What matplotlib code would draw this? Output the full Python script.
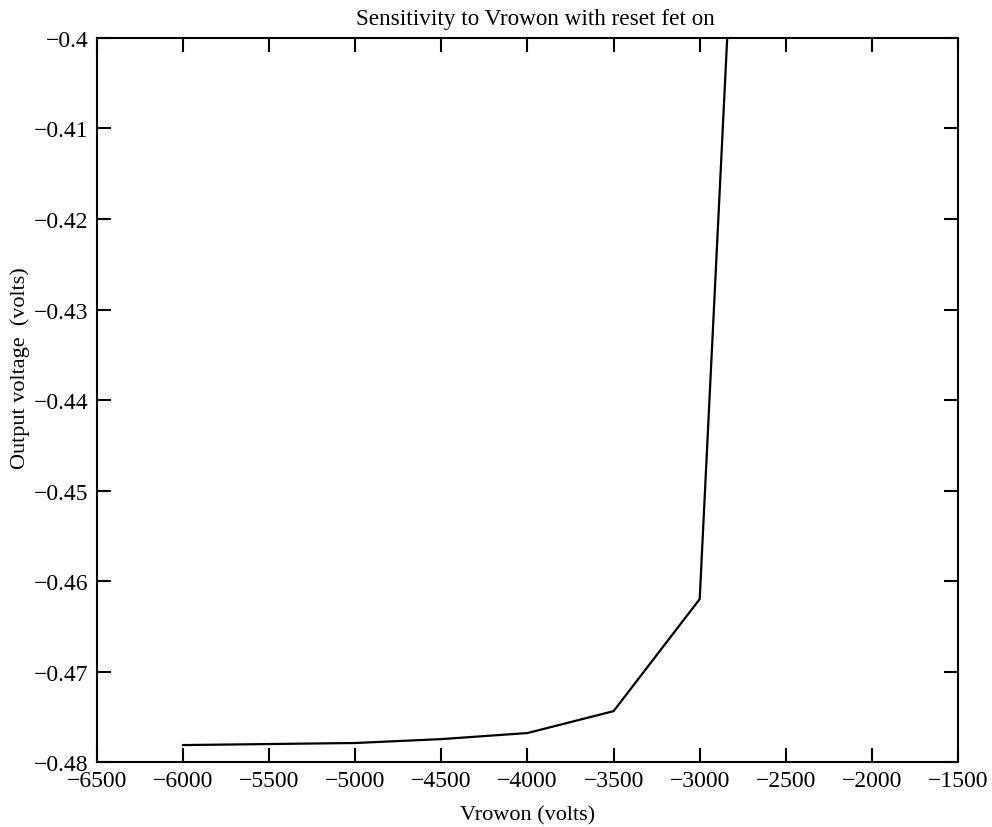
import numpy as np
import matplotlib
matplotlib.use("Agg")
import matplotlib.pyplot as plt

vrowon = [-6000, -5000, -4500, -4000, -3500, -3000, -2500]
vout = [-0.47813, -0.4779, -0.47747, -0.4768, -0.47438, -0.4620, -0.268]

plt.rcParams['font.family'] = ['Liberation Serif', 'DejaVu Serif']

fig = plt.figure(figsize=(9.92, 8.28), dpi=100)
ax = fig.add_axes([0.0978, 0.0785, 0.8679, 0.8744])

ax.plot(vrowon, vout, color='black', linewidth=1.6)

ax.set_xlim(-6500, -1500)
ax.set_ylim(-0.48, -0.4)
ax.set_xticks(np.arange(-6500, -1499, 500))
ax.set_yticks([-0.48, -0.47, -0.46, -0.45, -0.44, -0.43, -0.42, -0.41, -0.4])
ax.set_yticklabels(['−0.48', '−0.47', '−0.46', '−0.45', '−0.44', '−0.43', '−0.42', '−0.41', '−0.4'])

ax.tick_params(direction='in', top=True, right=True, length=10, width=1.5,
               labelsize=17, pad=6)
for s in ax.spines.values():
    s.set_linewidth(1.5)

ax.set_title("Sensitivity to Vrowon with reset fet on", fontsize=16.7, pad=10, x=0.509)
ax.set_xlabel("Vrowon (volts)", fontsize=16, labelpad=10)
ax.set_ylabel("Output voltage  (volts)", fontsize=16)
ax.yaxis.set_label_coords(-0.078, 0.545)

fig.savefig("out.png", dpi=100)
